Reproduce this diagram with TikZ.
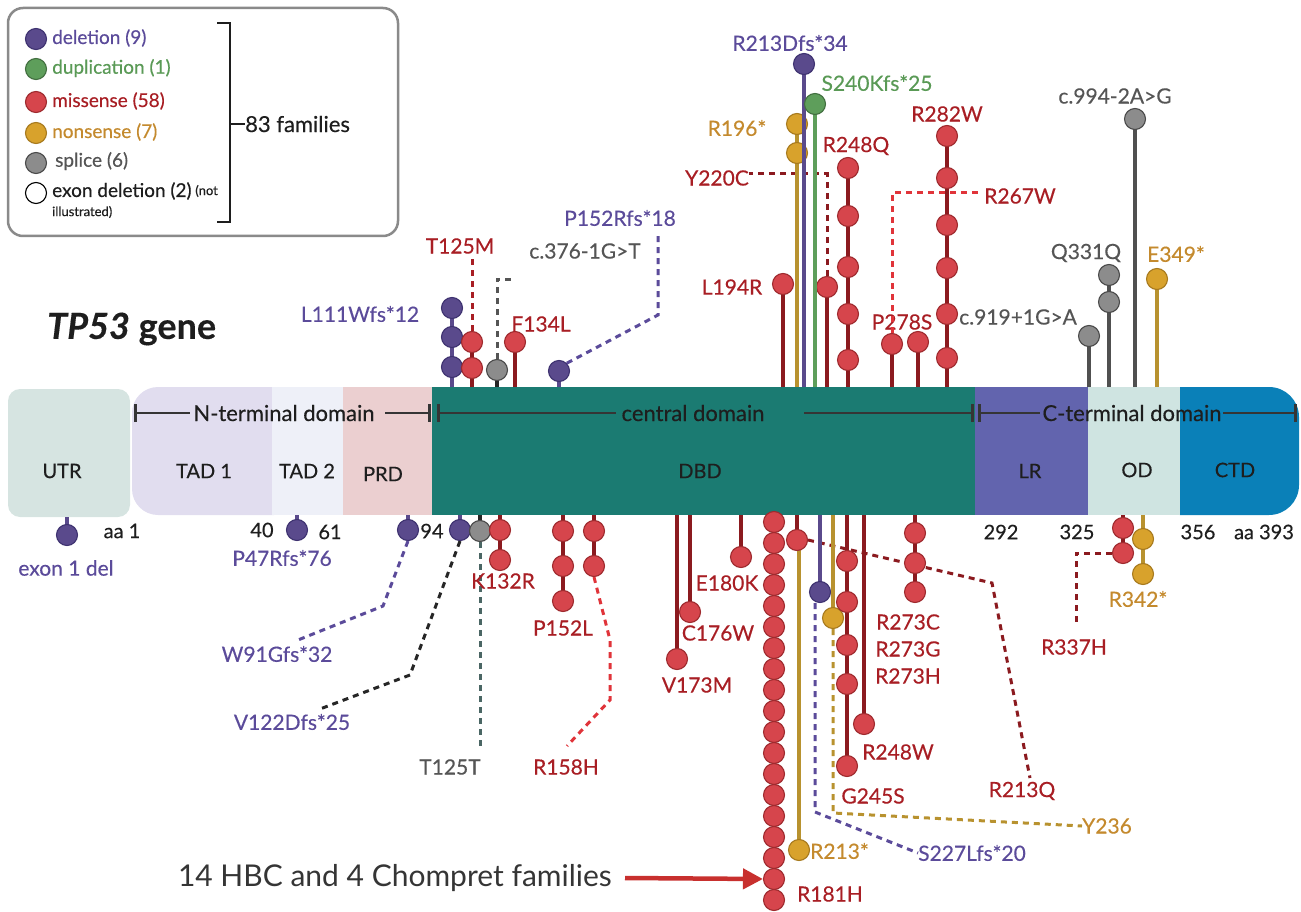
\documentclass[tikz,border=0pt]{standalone}
\usepackage{fontspec}
\setmainfont{Lato}[FakeBold=0.35]
\newfontfamily\plainlato{Lato}
\usetikzlibrary{arrows.meta}
\definecolor{utr}{HTML}{D6E4E1}
\definecolor{tadA}{HTML}{E1DDEF}
\definecolor{tadB}{HTML}{EEF0F8}
\definecolor{prd}{HTML}{EBCFD0}
\definecolor{dbd}{HTML}{1B7B72}
\definecolor{lr}{HTML}{6264AE}
\definecolor{od}{HTML}{CFE4E1}
\definecolor{ctd}{HTML}{0A80B8}
\definecolor{delfill}{HTML}{5A4A8C}
\definecolor{deldraw}{HTML}{3E3270}
\definecolor{deltext}{HTML}{5B4B9A}
\definecolor{dupfill}{HTML}{5E9E5B}
\definecolor{duptext}{HTML}{5A9A56}
\definecolor{misfill}{HTML}{D6454C}
\definecolor{misdraw}{HTML}{9E2A2E}
\definecolor{misstem}{HTML}{8B1A1F}
\definecolor{mistext}{HTML}{A81E24}
\definecolor{misbright}{HTML}{E0343A}
\definecolor{nonfill}{HTML}{D8A22C}
\definecolor{nondraw}{HTML}{A77A1E}
\definecolor{nonstem}{HTML}{B8922F}
\definecolor{nontext}{HTML}{C48A2E}
\definecolor{splfill}{HTML}{8C8C8C}
\definecolor{spldraw}{HTML}{4A4A4A}
\definecolor{splstem}{HTML}{505050}
\definecolor{spltext}{HTML}{555555}
\definecolor{darktxt}{HTML}{1E1E1E}
\definecolor{legbox}{HTML}{8A8A8A}
\definecolor{tealgray}{HTML}{4A6664}
\definecolor{arrowred}{HTML}{C8302E}
\begin{document}
\begin{tikzpicture}[x=1pt,y=-1pt,
  cir/.style={circle, minimum size=21pt, inner sep=0pt, line width=1.1pt},
  del/.style={cir, fill=delfill, draw=deldraw},
  dup/.style={cir, fill=dupfill, draw=dupfill!70!black},
  mis/.style={cir, fill=misfill, draw=misdraw},
  non/.style={cir, fill=nonfill, draw=nondraw},
  spl/.style={cir, fill=splfill, draw=spldraw},
  stem/.style={line width=4.2pt},
  dl/.style={dash pattern=on 6pt off 5pt, line width=3pt},
  lab/.style={font=\fontsize{21}{24}\selectfont, inner sep=0pt},
  leg/.style={font=\fontsize{19}{22}\selectfont, inner sep=0pt, anchor=west},
  dom/.style={font=\fontsize{20}{24}\selectfont, inner sep=0pt, text=darktxt},
  spanline/.style={line width=2.8pt, draw=darktxt!90},
  posnum/.style={font=\fontsize{20}{24}\selectfont, inner sep=0pt, text=darktxt}
]
\useasboundingbox (0,0) rectangle (1301,912);

% ---------------- legend
\draw[legbox, line width=2.5pt, rounded corners=15, fill=white] (8,8) rectangle (398,236);
\node[del] (kdel) at (36,39) {};
\node[dup] (kdup) at (36,69) {};
\node[mis] (kmis) at (36,102) {};
\node[non] (knon) at (36,133) {};
\node[spl] (kspl) at (36,163) {};
\node[cir, draw=black, fill=white] (kexo) at (36,193) {};
\node[leg, text=deltext] (tdel) at (52,38) {deletion (9)};
\node[leg, text=duptext] (tdup) at (52,68) {duplication (1)};
\node[leg, text=mistext] (tmis) at (52,101) {missense (58)};
\node[leg, text=nontext] (tnon) at (52,132) {nonsense (7)};
\node[leg, text=spltext] (tspl) at (55,161) {splice (6)};
\node[leg, text=darktxt] (texo) at (52,191) {exon deletion (2)};
\node[inner sep=0pt, anchor=west, font=\fontsize{13}{15}\selectfont, text=darktxt] (tnot) at (texo.east) {\ (not};
\node[inner sep=0pt, anchor=west, font=\fontsize{13}{15}\selectfont, text=darktxt] (till) at (52,212) {illustrated)};
\draw[line width=2.5pt, darktxt] (217,23) -- (230,23) -- (230,222) -- (217,222);
\coordinate (brm) at (230,124);
\node[inner sep=0pt, anchor=west, font=\fontsize{22}{26}\selectfont, text=darktxt] (fam) at (245,124) {83 families};
\draw[line width=2.5pt, darktxt] (brm) -- (fam.west);

% ---------------- title
\node[inner sep=0pt, anchor=west, font=\fontsize{36}{40}\selectfont, text=darktxt] (title) at (47,329) {\bfseries\itshape TP53\upshape\ gene};

% ---------------- domain bar
\fill[utr, rounded corners=12] (8,389) rectangle (130,517);
\fill[tadA, rounded corners=26] (132,387) rectangle (300,515);
\fill[tadB] (272,387) rectangle (343,515);
\fill[prd] (343,387) rectangle (433,515);
\fill[dbd] (432,387) rectangle (975,515);
\fill[ctd, rounded corners=30] (1150,387) rectangle (1299,515);
\fill[lr] (975,387) rectangle (1088,515);
\fill[od] (1088,387) rectangle (1180,515);

\node[dom] (dUTR) at (62,471) {UTR};
\node[dom] (dTAD1) at (204,471) {TAD 1};
\node[dom] (dTAD2) at (307,471) {TAD 2};
\node[dom] (dPRD) at (383,474) {PRD};
\node[dom] (dDBD) at (700,471) {DBD};
\node[dom] (dLR) at (1030,471) {LR};
\node[dom] (dOD) at (1137,470) {OD};
\node[dom] (dCTD) at (1235,470) {CTD};

\node[dom, font=\fontsize{22}{26}\selectfont] (nterm) at (284,413) {N-terminal domain};
\node[dom, font=\fontsize{22}{26}\selectfont] (cent) at (693,413) {central domain};
\node[dom, font=\fontsize{22}{26}\selectfont] (cterm) at (1132,413) {C-terminal domain};
\draw[spanline, {Bar[width=18pt]}-] (134,413) -- (190,413);
\draw[spanline, -{Bar[width=18pt]}] (385,413) -- (431,413);
\draw[spanline, {Bar[width=18pt]}-] (437,413) -- (616,413);
\draw[spanline, -{Bar[width=18pt]}] (804,413) -- (974,413);
\draw[spanline, {Bar[width=18pt]}-] (978,413) -- (1040,413);
\draw[spanline, -{Bar[width=18pt]}] (1223,413) -- (1297,413);

% position numbers
\node[posnum] (p1) at (122,531) {aa 1};
\node[posnum] (p40) at (262,530) {40};
\node[posnum] (p61) at (330,532) {61};
\node[posnum] (p94) at (432,531) {94};
\node[posnum] (p292) at (1001,532) {292};
\node[posnum] (p325) at (1077,532) {325};
\node[posnum] (p356) at (1198,532) {356};
\node[posnum] (p393) at (1264,532) {aa 393};

% ================= TOP lollipops
% L111Wfs*12
\draw[stem, delfill] (452,387) -- (452,308);
\foreach \y [count=\i] in {308,337,367} \node[del] (la\i) at (452,\y) {};
\node[lab, text=deltext] (lL111) at (360,314) {L111Wfs*12};
% T125M
\draw[stem, misstem] (472,387) -- (472,342);
\foreach \y [count=\i] in {342,368} \node[mis] (tm\i) at (472,\y) {};
\node[lab, text=mistext] (lT125M) at (460,246) {T125M};
\draw[dl, mistext] (tm1.north) -- (472,258);
% c.376-1G>T
\draw[stem, black!85] (497,387) -- (497,370);
\node[spl] (sa1) at (497,370) {};
\node[lab, text=spltext] (lc376) at (585,251) {c.376-1G>T};
\draw[dl, spltext] (sa1.north) -- (497,279) -- (511,279);
% F134L
\draw[stem, misstem] (515,387) -- (515,342);
\node[mis] (fa1) at (515,342) {};
\node[lab, text=mistext] (lF134L) at (541,324) {F134L};
% P152Rfs*18
\draw[stem, delfill] (559,387) -- (559,371);
\node[del] (pr1) at (559,371) {};
\node[lab, text=deltext] (lP152R) at (620,218) {P152Rfs*18};
\draw[dl, deltext] (pr1.north east) -- (658,315) -- (658,236);
% L194R
\draw[stem, misstem] (783,387) -- (783,284);
\node[mis] (lr1) at (783,284) {};
\node[lab, text=mistext] (lL194R) at (732,287) {L194R};
% Y220C
\draw[stem, misstem] (827,387) -- (827,287);
\node[mis] (yc1) at (827,287) {};
\node[lab, text=mistext] (lY220C) at (717,178) {Y220C};
\draw[dl, misstem] (yc1.north) -- (827,174) -- (lY220C.east |- 0,174);
% R196*
\draw[stem, nonstem] (797,387) -- (797,124);
\foreach \y [count=\i] in {124,153} \node[non] (rs\i) at (797,\y) {};
\node[lab, text=nontext] (lR196) at (737,128) {R196*};
% R213Dfs*34
\draw[stem, delfill] (804,387) -- (804,64);
\node[del] (rd1) at (804,64) {};
\node[lab, text=deltext] (lR213D) at (790,43) {R213Dfs*34};
% S240Kfs*25
\draw[stem, dupfill] (815,387) -- (815,104);
\node[dup] (sk1) at (815,104) {};
\node[lab, text=duptext] (lS240) at (877,83) {S240Kfs*25};
% R248Q
\draw[stem, misstem] (848,387) -- (848,168);
\foreach \y [count=\i] in {168,216,267,314,360} \node[mis] (rq\i) at (848,\y) {};
\node[lab, text=mistext] (lR248Q) at (856,146) {R248Q};
% P278S
\draw[stem, misstem] (892,387) -- (892,344);
\draw[stem, misstem] (918,387) -- (918,342);
\node[mis] (ps1) at (892,344) {};
\node[mis] (ps2) at (918,342) {};
\node[lab, text=mistext] (lP278S) at (902,322) {P278S};
% R267W
\node[lab, text=mistext] (lR267W) at (1020,196) {R267W};
\draw[dl, misbright] (ps1.north) -- (892,193) -- (982,193);
% R282W
\draw[stem, misstem] (947,387) -- (947,136);
\foreach \y [count=\i] in {136,178,225,268,314,358} \node[mis] (rw\i) at (947,\y) {};
\node[lab, text=mistext] (lR282W) at (947,114) {R282W};
% c.919+1G>A
\draw[stem, splstem] (1089,387) -- (1089,336);
\node[spl] (sb1) at (1089,336) {};
\node[lab, text=spltext] (lc919) at (1018,317) {c.919+1G>A};
% Q331Q
\draw[stem, splstem] (1109,387) -- (1109,275);
\foreach \y [count=\i] in {275,302} \node[spl] (qq\i) at (1109,\y) {};
\node[lab, text=spltext] (lQ331Q) at (1086,253) {Q331Q};
% c.994-2A>G
\draw[stem, splstem] (1135,387) -- (1135,119);
\node[spl] (sc1) at (1135,119) {};
\node[lab, text=spltext] (lc994) at (1115,96) {c.994-2A>G};
% E349*
\draw[stem, nonstem] (1157,387) -- (1157,279);
\node[non] (es1) at (1157,279) {};
\node[lab, text=nontext] (lE349) at (1176,254) {E349*};

% ================= BOTTOM lollipops
% exon 1 del
\draw[stem, delfill] (67,517) -- (67,535);
\node[del] (ex1) at (67,535) {};
\node[lab, text=deltext] (lexon) at (66,568) {exon 1 del};
% P47Rfs*76
\draw[stem, delfill] (297,515) -- (297,530);
\node[del] (pa1) at (297,530) {};
\node[lab, text=deltext] (lP47) at (282,558) {P47Rfs*76};
% W91Gfs*32
\draw[stem, delfill] (408,515) -- (408,530);
\node[del] (wg1) at (408,530) {};
\node[lab, text=deltext] (lW91) at (277,654) {W91Gfs*32};
\draw[dl, deltext] (wg1.south) -- (383,606) -- (298,640);
% V122Dfs*25
\draw[stem, delfill] (460,515) -- (460,530);
\node[del] (vd1) at (460,530) {};
\node[lab, text=deltext] (lV122) at (292,722) {V122Dfs*25};
\draw[dl, black!85] (vd1.south) -- (410,675) -- (320,709);
% T125T
\draw[stem, black!85] (480,515) -- (480,531);
\node[spl] (tt1) at (480,531) {};
\node[lab, text=spltext] (lT125T) at (450,767) {T125T};
\draw[dl, tealgray] (tt1.south) -- (480,748);
% K132R
\draw[stem, misstem] (500,515) -- (500,560);
\foreach \y [count=\i] in {530,560} \node[mis] (kr\i) at (500,\y) {};
\node[lab, text=mistext] (lK132R) at (503,581) {K132R};
% P152L
\draw[stem, misstem] (563,515) -- (563,601);
\foreach \y [count=\i] in {531,566,601} \node[mis] (pl\i) at (563,\y) {};
\node[lab, text=mistext] (lP152L) at (563,628) {P152L};
% R158H
\draw[stem, misstem] (594,515) -- (594,566);
\foreach \y [count=\i] in {531,566} \node[mis] (rh\i) at (594,\y) {};
\node[lab, text=mistext] (lR158H) at (566,767) {R158H};
\draw[dl, misbright] (rh2.south) -- (610,640) -- (610,700) -- (567,746);
% V173M
\draw[stem, misstem] (677,515) -- (677,659);
\node[mis] (vm1) at (677,659) {};
\node[lab, text=mistext] (lV173M) at (697,685) {V173M};
% C176W
\draw[stem, misstem] (690,515) -- (690,612);
\node[mis] (cw1) at (690,612) {};
\node[lab, text=mistext] (lC176W) at (718,633) {C176W};
% E180K
\draw[stem, misstem] (741,515) -- (741,557);
\node[mis] (ek1) at (741,557) {};
\node[lab, text=mistext] (lE180K) at (727,583) {E180K};
% R181H
\draw[stem, misstem] (774,515) -- (774,900);
\foreach \i in {0,...,18} \node[mis] (rr\i) at (774,522+21*\i) {};
\node[lab, text=mistext] (lR181H) at (830,894) {R181H};
% R213*
\draw[stem, nonstem] (799,540) -- (799,850);
\node[non] (ra1) at (799,850) {};
\node[lab, text=nontext, anchor=west] (lR213s) at (810,851) {R213*};
% R213Q
\draw[stem, misstem] (797,515) -- (797,540);
\node[mis] (rq0) at (797,540) {};
\node[lab, text=mistext] (lR213Q) at (1022,791) {R213Q};
\draw[dl, misstem] (rq0.east) -- (992,583) -- (1030,778);
% S227Lfs*20
\draw[stem, delfill] (820,515) -- (820,592);
\node[del] (sl1) at (820,592) {};
\node[lab, text=deltext, anchor=west] (lS227) at (918,853) {S227Lfs*20};
\draw[dl, deltext] (sl1.south) ++(-5,0) -- (815,812) -- (lS227.west);
% Y236
\draw[stem, nonstem] (833,515) -- (833,618);
\node[non] (yy1) at (833,618) {};
\node[lab, text=nontext, anchor=west] (lY236) at (1082,826) {Y236};
\draw[dl, nonstem] (yy1.south) -- (833,813) -- (lY236.west);
% G245S
\draw[stem, misstem] (847,515) -- (847,766);
\foreach \y [count=\i] in {561,602,645,684,766} \node[mis] (gs\i) at (847,\y) {};
\node[lab, text=mistext] (lG245S) at (873,796) {G245S};
% R248W
\draw[stem, misstem] (864,515) -- (864,724);
\node[mis] (rb1) at (864,724) {};
\node[lab, text=mistext] (lR248W) at (898,752) {R248W};
% R273
\draw[stem, misstem] (915,515) -- (915,592);
\foreach \y [count=\i] in {533,563,592} \node[mis] (rt\i) at (915,\y) {};
\node[lab, text=mistext] (lR273C) at (908,622) {R273C};
\node[lab, text=mistext] (lR273G) at (908,649) {R273G};
\node[lab, text=mistext] (lR273H) at (908,676) {R273H};
% R337H
\draw[stem, misstem] (1123,515) -- (1123,553);
\foreach \y [count=\i] in {528,553} \node[mis] (rc\i) at (1123,\y) {};
\node[lab, text=mistext] (lR337H) at (1074,647) {R337H};
\draw[dl, misstem] (rc2.west) -- (1076,553) -- (1076,626);
% R342*
\draw[stem, nonstem] (1143,515) -- (1143,574);
\foreach \y [count=\i] in {539,574} \node[non] (rn\i) at (1143,\y) {};
\node[lab, text=nontext] (lR342) at (1138,599) {R342*};

% ---------------- HBC arrow
\node[inner sep=0pt, anchor=east, font=\plainlato\fontsize{30}{33}\selectfont, text=darktxt!90] (hbc) at (612,878) {14 HBC and 4 Chompret families};
\draw[line width=4.5pt, arrowred, -{Triangle[length=20pt,width=20pt]}] (625,878) -- (rr17.west);
\end{tikzpicture}
\end{document}
